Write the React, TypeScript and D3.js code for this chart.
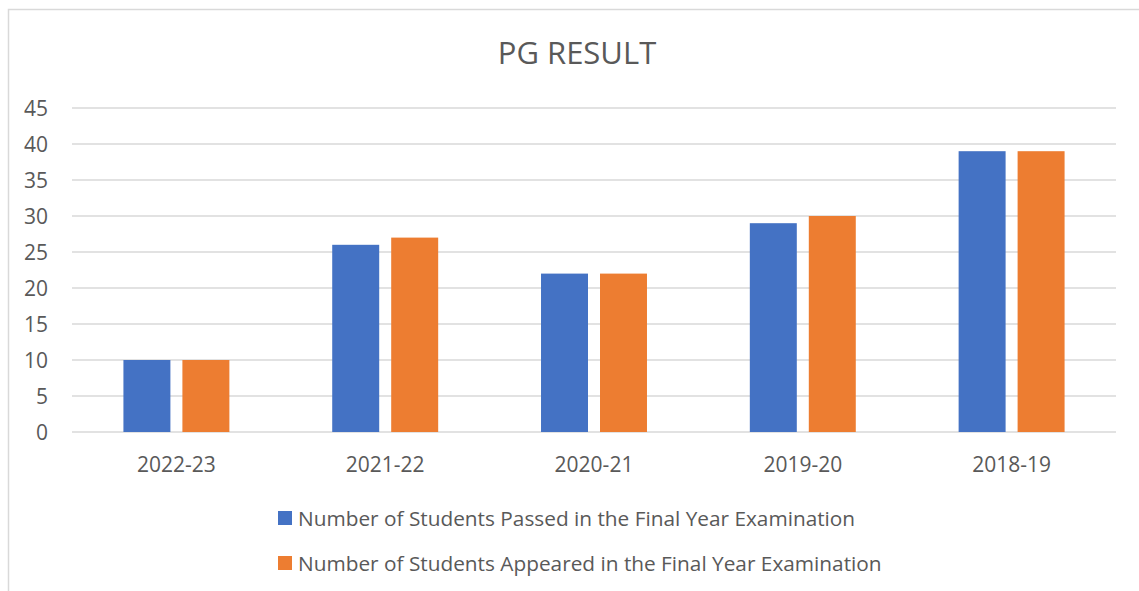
import React, { useRef, useEffect } from 'react';
import * as d3 from 'd3';

const categories = ['2022-23', '2021-22', '2020-21', '2019-20', '2018-19'];
const passed = [10, 26, 22, 29, 39];
const appeared = [10, 27, 22, 30, 39];
const seriesNames = [
  'Number of Students Passed in the Final Year Examination',
  'Number of Students Appeared in the Final Year Examination',
];
const yTicks = [0, 5, 10, 15, 20, 25, 30, 35, 40, 45];

const App = () => {
  const svgRef = useRef<SVGSVGElement>(null);

  useEffect(() => {
    const width = 1139;
    const height = 591;
    const font = "'Open Sans', sans-serif";
    const textColor = '#595959';
    const colors = ['#4472C4', '#ED7D31'];

    const svg = d3.select(svgRef.current);
    svg.selectAll('*').remove();
    svg.attr('width', width).attr('height', height);

    // chart frame (only left and top visible)
    svg.append('rect').attr('x', 0).attr('y', 0).attr('width', width).attr('height', height).attr('fill', '#fff');
    svg.append('path')
      .attr('d', `M8.5,${height} V9.5 H${width}`)
      .attr('fill', 'none')
      .attr('stroke', '#d9d9d9')
      .attr('stroke-width', 1.5);

    svg.append('text')
      .attr('x', 577)
      .attr('y', 52)
      .attr('text-anchor', 'middle')
      .attr('dominant-baseline', 'central')
      .style('font-family', font)
      .style('font-size', '31px')
      .attr('fill', textColor)
      .text('PG RESULT');

    const x = d3.scaleBand().domain(categories).range([72, 1116]);
    const y = d3.scaleLinear().domain([0, 45]).range([432, 108]);

    const g = svg.append('g');
    g.selectAll('.grid')
      .data(yTicks)
      .enter().append('line')
      .attr('x1', 72).attr('x2', 1116)
      .attr('y1', d => y(d)).attr('y2', d => y(d))
      .attr('stroke', '#d9d9d9')
      .attr('stroke-width', 1.5);

    g.selectAll('.ylab')
      .data(yTicks)
      .enter().append('text')
      .attr('x', 48)
      .attr('y', d => y(d))
      .attr('text-anchor', 'end')
      .attr('dominant-baseline', 'central')
      .style('font-family', font)
      .style('font-size', '21px')
      .attr('fill', textColor)
      .text(d => d);

    const barW = x.bandwidth() * 0.225;
    const gap = 12;
    const series = [passed, appeared];
    series.forEach((vals, si) => {
      g.selectAll(`.bar${si}`)
        .data(vals)
        .enter().append('rect')
        .attr('x', (d, i) => x(categories[i])! + x.bandwidth() / 2 + (si === 0 ? -gap / 2 - barW : gap / 2))
        .attr('y', d => y(d))
        .attr('width', barW)
        .attr('height', d => y(0) - y(d))
        .attr('fill', colors[si]);
    });

    g.selectAll('.xlab')
      .data(categories)
      .enter().append('text')
      .attr('x', d => x(d)! + x.bandwidth() / 2)
      .attr('y', 464)
      .attr('text-anchor', 'middle')
      .attr('dominant-baseline', 'central')
      .style('font-family', font)
      .style('font-size', '21px')
      .attr('fill', textColor)
      .text(d => d);

    // legend
    const legendY = [518, 563];
    seriesNames.forEach((name, i) => {
      svg.append('rect')
        .attr('x', 278)
        .attr('y', legendY[i] - 7)
        .attr('width', 14)
        .attr('height', 14)
        .attr('fill', colors[i]);
      svg.append('text')
        .attr('x', 298)
        .attr('y', legendY[i])
        .attr('dominant-baseline', 'central')
        .style('font-family', font)
        .style('font-size', '20.8px')
        .attr('fill', textColor)
        .text(name);
    });
  }, []);

  return (
    <svg ref={svgRef} style={{ position: 'absolute', left: 0, top: 0 }}></svg>
  );
};

export default App;
